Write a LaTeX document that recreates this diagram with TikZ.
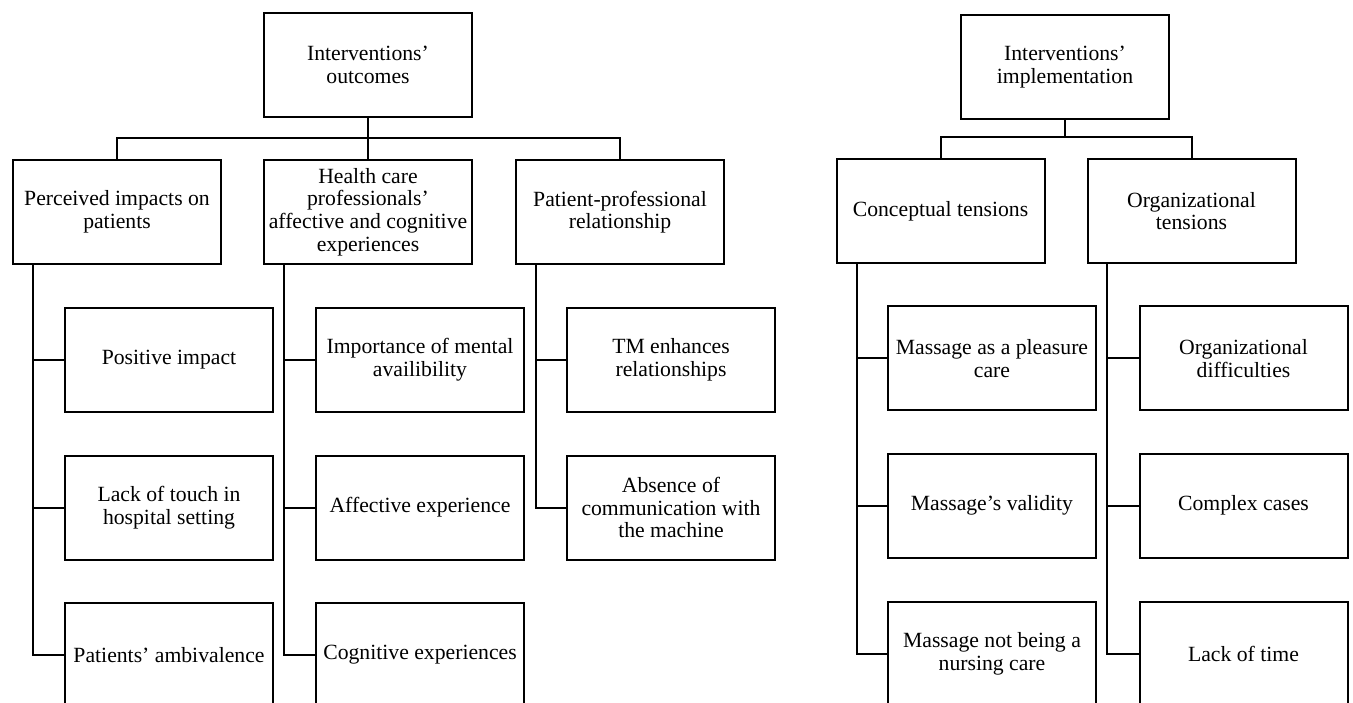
\documentclass[tikz,border=0pt]{standalone}
\usepackage{fontspec}
\setmainfont{Liberation Serif}
\usetikzlibrary{calc}
\begin{document}
\begin{tikzpicture}[x=1pt,y=-1pt,
  box/.style={draw,line width=2pt,minimum width=208pt,minimum height=104pt,inner sep=0pt,align=center,
    font=\fontsize{21.7}{22.6}\selectfont},
  conn/.style={line width=2pt}]
\clip (0,0) rectangle (1353,703);
\fill[white] (0,0) rectangle (1353,703);
% ---- left tree
\node[box] (T1) at (368,65) {Interventions’\\outcomes};
\node[box] (A) at (117,212) {Perceived impacts on\\patients};
\node[box] (B) at (368,212) {Health care\\professionals’\\affective and cognitive\\experiences};
\node[box] (C) at (620,212) {Patient-professional\\relationship};
\node[box] (A1) at (169,360) {Positive impact};
\node[box] (A2) at (169,507.5) {Lack of touch in\\hospital setting};
\node[box] (A3) at (169,655) {Patients’ ambivalence};
\node[box] (B1) at (420,360) {Importance of mental\\availibility};
\node[box] (B2) at (420,507.5) {Affective experience};
\node[box] (B3) at (420,655) {Cognitive experiences};
\node[box] (C1) at (671,360) {TM enhances\\relationships};
\node[box] (C2) at (671,507.5) {Absence of\\communication with\\the machine};
\coordinate (busL) at (368,138);
\draw[conn] (T1.south) -- (busL);
\draw[conn] (A.north) |- (busL) -| (C.north);
\draw[conn] (B.north) -- (busL);
\coordinate (As) at ($(A.south west)+(21,0)$);
\coordinate (Bs) at ($(B.south west)+(21,0)$);
\coordinate (Cs) at ($(C.south west)+(21,0)$);
\draw[conn] (As) |- (A1.west);
\draw[conn] (As) |- (A2.west);
\draw[conn] (As) |- (A3.west);
\draw[conn] (Bs) |- (B1.west);
\draw[conn] (Bs) |- (B2.west);
\draw[conn] (Bs) |- (B3.west);
\draw[conn] (Cs) |- (C1.west);
\draw[conn] (Cs) |- (C2.west);
% ---- right tree
\node[box] (T2) at (1065,67) {Interventions’\\implementation};
\node[box] (D) at (940.5,211) {Conceptual tensions};
\node[box] (E) at (1191.5,211) {Organizational\\tensions};
\node[box] (D1) at (992,358.5) {Massage as a pleasure\\care};
\node[box] (D2) at (992,505.5) {Massage’s validity};
\node[box] (D3) at (992,654) {Massage not being a\\nursing care};
\node[box] (E1) at (1243.5,358.5) {Organizational\\difficulties};
\node[box] (E2) at (1243.5,505.5) {Complex cases};
\node[box] (E3) at (1243.5,654) {Lack of time};
\coordinate (busR) at (1065,137);
\draw[conn] (T2.south) -- (busR);
\draw[conn] (D.north) |- (busR) -| (E.north);
\coordinate (Ds) at ($(D.south west)+(21,0)$);
\coordinate (Es) at ($(E.south west)+(20,0)$);
\draw[conn] (Ds) |- (D1.west);
\draw[conn] (Ds) |- (D2.west);
\draw[conn] (Ds) |- (D3.west);
\draw[conn] (Es) |- (E1.west);
\draw[conn] (Es) |- (E2.west);
\draw[conn] (Es) |- (E3.west);
\end{tikzpicture}
\end{document}
